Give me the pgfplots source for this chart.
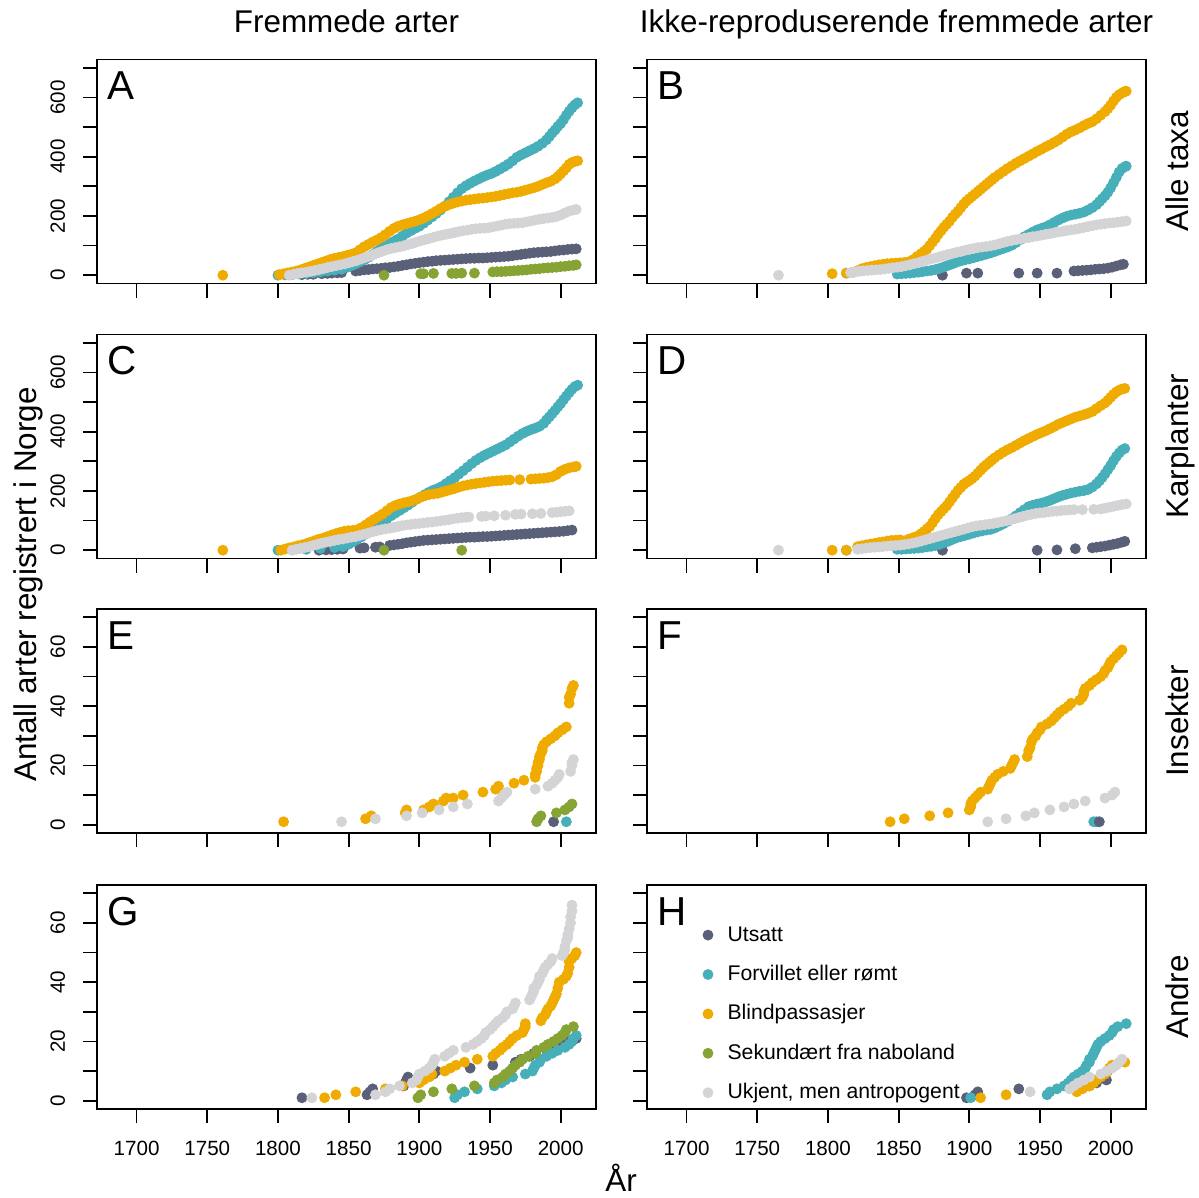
\documentclass[border=0pt]{standalone}
\usepackage{fontspec}
\setmainfont{Liberation Sans}
\usepackage{pgfplots}
\pgfplotsset{compat=1.18}

\definecolor{cU}{HTML}{596077}
\definecolor{cF}{HTML}{47AFB9}
\definecolor{cB}{HTML}{F0AB00}
\definecolor{cS}{HTML}{86A333}
\definecolor{cK}{HTML}{D4D4D6}

\newcommand{\tickfont}{\fontsize{10.3}{12}\selectfont}
\newcommand{\bigfont}{\fontsize{15.7}{18}\selectfont}
\newcommand{\letfont}{\fontsize{20.2}{24}\selectfont}
\newcommand{\legfont}{\fontsize{10.6}{12}\selectfont}

\pgfplotsset{
  panel/.style={scale only axis, width=249.5pt, height=112pt,
    xmin=1672, xmax=2025,
    axis line style={line width=0.9pt},
    tick style={line width=0.9pt, black},
    tick align=outside, major tick length=7pt,
    xtick={1700,1750,...,2000}, xtick pos=left, ytick pos=left,
    xticklabels={,,,,,,}, yticklabels={,,,,,,,},
    tick label style={font=\tickfont, inner sep=0pt},
    /pgf/number format/assume math mode=true},
  big/.style={ymin=-28, ymax=728, ytick={0,100,...,700}},
  small/.style={ymin=-2.8, ymax=72.8, ytick={0,10,...,70}},
  ylabbig/.style={yticklabels={0,,200,,400,,600,},
    yticklabel style={rotate=90, anchor=south}, yticklabel shift=8.8pt},
  ylabsmall/.style={yticklabels={0,,20,,40,,60,},
    yticklabel style={rotate=90, anchor=south}, yticklabel shift=8.8pt},
  xlab/.style={xticklabels={1700,1750,1800,1850,1900,1950,2000}, xticklabel shift=9pt},
  pU/.style={only marks, mark=*, mark size=2.5pt, color=cU},
  pF/.style={only marks, mark=*, mark size=2.5pt, color=cF},
  pB/.style={only marks, mark=*, mark size=2.5pt, color=cB},
  pS/.style={only marks, mark=*, mark size=2.5pt, color=cS},
  pK/.style={only marks, mark=*, mark size=2.5pt, color=cK},
}
\newcommand{\panelletter}[1]{\node[anchor=base west, inner sep=0pt, font=\letfont] at (rel axis cs:0.02,0.821) {#1};}

\begin{document}
\begin{tikzpicture}
\begin{scope}[x=0.5pt, y=-0.5pt]
\path[use as bounding box] (0,0) rectangle (1199,1198);
\node[font=\bigfont, anchor=base] at (346.5,33) {Fremmede arter};
\node[font=\bigfont, anchor=base] at (896.5,33) {Ikke-reproduserende fremmede arter};
\node[font=\bigfont, anchor=base, rotate=90] at (1188,171.5) {Alle taxa};
\node[font=\bigfont, anchor=base, rotate=90] at (1188,446) {Karplanter};
\node[font=\bigfont, anchor=base, rotate=90] at (1188,721) {Insekter};
\node[font=\bigfont, anchor=base, rotate=90] at (1188,997) {Andre};
\node[font=\bigfont, anchor=base, rotate=90] at (36,584.5) {Antall arter registrert i Norge};
\node[font=\bigfont, anchor=base] at (621,1191) {År};
\end{scope}

% ---------- A ----------
\begin{axis}[panel, big, ylabbig, at={(48.5pt,-141.75pt)}, anchor=south west]
\addplot[pU] coordinates {(1817,2)(1821,3)(1825,3)(1831,5)(1835,6)(1838,7)(1842,8)(1845,9)(1855,14)(1858,16)(1861,18)(1864,19)(1867,21)(1870,22)(1873,23)(1876,25)(1879,26)(1882,28)(1885,30)(1888,33)(1891,35)(1894,38)(1897,40)(1900,42)(1903,44)(1906,46)(1909,47)(1912,49)(1915,50)(1918,51)(1921,52)(1924,53)(1927,54)(1930,55)(1933,56)(1936,57)(1939,57)(1942,58)(1945,58)(1948,59)(1951,60)(1954,61)(1957,62)(1960,63)(1963,64)(1966,66)(1969,68)(1972,70)(1975,72)(1978,74)(1981,76)(1984,77)(1987,78)(1990,79)(1993,80)(1996,82)(1999,84)(2002,85)(2005,87)(2008,88)(2011,89)};
\addplot[pF] coordinates {(1800,0)(1805,1)(1810,2)(1815,4)(1820,6)(1825,8)(1830,11)(1835,14)(1840,17)(1845,20)(1849,27)(1852,32)(1855,38)(1858,45)(1861,52)(1864,60)(1867,70)(1870,80)(1873,90)(1876,98)(1879,106)(1882,114)(1885,122)(1888,132)(1891,142)(1894,150)(1897,158)(1900,165)(1903,175)(1906,186)(1909,197)(1912,208)(1915,220)(1918,233)(1921,248)(1924,263)(1927,278)(1930,292)(1933,302)(1936,310)(1939,318)(1942,325)(1945,332)(1948,338)(1951,343)(1954,350)(1957,358)(1960,366)(1963,375)(1966,386)(1969,398)(1972,406)(1975,413)(1978,420)(1981,427)(1984,435)(1987,445)(1990,457)(1992,468)(1994,480)(1996,490)(1998,502)(2000,512)(2002,525)(2004,540)(2006,553)(2008,565)(2010,575)(2012,582)};
\addplot[pB] coordinates {(1761,0)(1801,2)(1804,5)(1807,8)(1810,11)(1813,14)(1816,18)(1819,23)(1822,28)(1825,33)(1828,38)(1831,43)(1834,48)(1837,53)(1840,57)(1843,60)(1846,63)(1849,67)(1852,71)(1855,76)(1858,86)(1861,96)(1864,104)(1867,112)(1870,119)(1873,127)(1876,137)(1879,148)(1882,158)(1885,165)(1888,170)(1891,174)(1894,178)(1897,182)(1900,187)(1903,193)(1906,200)(1909,208)(1912,216)(1915,225)(1918,232)(1921,238)(1924,243)(1927,247)(1930,250)(1933,253)(1936,255)(1939,257)(1942,259)(1945,260)(1948,262)(1951,264)(1954,266)(1957,269)(1960,272)(1963,275)(1966,278)(1969,280)(1972,283)(1975,287)(1978,291)(1981,295)(1984,300)(1987,306)(1990,312)(1993,317)(1996,325)(1998,333)(2000,342)(2002,352)(2004,362)(2006,374)(2008,380)(2010,384)(2012,386)};
\addplot[pS] coordinates {(1875,0)(1901,5)(1903,5)(1910,6)(1923,6)(1926,6)(1930,7)(1939,7)(1952,11)(1955,12)(1958,12)(1961,13)(1964,14)(1967,15)(1970,16)(1973,17)(1976,18)(1979,20)(1982,21)(1985,22)(1988,24)(1991,25)(1994,26)(1997,27)(2000,29)(2003,30)(2006,32)(2009,33)(2011,35)};
\addplot[pK] coordinates {(1808,0)(1811,3)(1814,6)(1817,8)(1820,10)(1823,13)(1826,16)(1829,19)(1832,22)(1835,26)(1838,29)(1841,32)(1844,35)(1847,38)(1850,42)(1853,46)(1856,50)(1859,55)(1862,60)(1865,65)(1868,70)(1871,76)(1874,81)(1877,86)(1880,90)(1883,93)(1886,96)(1889,99)(1892,103)(1895,107)(1898,112)(1901,116)(1904,120)(1907,124)(1910,128)(1913,132)(1916,135)(1919,138)(1922,141)(1925,144)(1928,147)(1931,150)(1934,152)(1937,155)(1940,157)(1943,158)(1946,159)(1949,160)(1952,163)(1955,166)(1958,169)(1961,172)(1964,174)(1967,175)(1970,176)(1973,177)(1976,180)(1979,183)(1982,186)(1985,189)(1988,191)(1991,193)(1994,195)(1997,198)(2000,203)(2003,210)(2006,216)(2009,220)(2011,222)};
\panelletter{A}
\end{axis}

% ---------- B ----------
\begin{axis}[panel, big, at={(323.5pt,-141.75pt)}, anchor=south west]
\addplot[pU] coordinates {(1881,0)(1898,7)(1906,7)(1935,7)(1948,7)(1962,7)(1974,14)(1977,15)(1980,16)(1983,17)(1986,18)(1989,20)(1992,21)(1995,22)(1998,24)(2001,27)(2004,31)(2007,35)(2009,37)};
\addplot[pF] coordinates {(1813,7)(1849,4)(1852,5)(1855,6)(1858,7)(1861,9)(1864,10)(1867,12)(1870,14)(1873,16)(1876,19)(1879,23)(1882,28)(1885,33)(1888,38)(1891,44)(1894,48)(1897,52)(1900,55)(1903,59)(1906,63)(1909,67)(1912,71)(1915,75)(1918,80)(1921,85)(1924,90)(1927,95)(1930,101)(1933,110)(1936,120)(1939,130)(1942,138)(1945,146)(1948,153)(1951,158)(1954,163)(1957,170)(1960,178)(1963,186)(1966,193)(1969,199)(1972,203)(1975,206)(1978,209)(1981,213)(1984,220)(1987,228)(1990,238)(1992,248)(1994,258)(1996,268)(1998,280)(2000,295)(2002,312)(2004,330)(2006,348)(2008,360)(2010,366)(2011,368)};
\addplot[pB] coordinates {(1803,5)(1813,7)(1818,10)(1821,15)(1824,22)(1827,26)(1830,29)(1833,32)(1836,35)(1839,37)(1842,39)(1845,40)(1848,41)(1851,42)(1854,43)(1857,45)(1860,52)(1863,63)(1866,73)(1868,80)(1870,88)(1872,100)(1874,112)(1876,124)(1878,138)(1880,150)(1882,162)(1884,172)(1886,182)(1888,195)(1890,206)(1892,216)(1894,228)(1896,240)(1898,250)(1900,258)(1902,266)(1904,274)(1906,282)(1908,290)(1910,298)(1912,306)(1914,314)(1916,322)(1918,330)(1921,340)(1924,350)(1927,360)(1930,369)(1933,378)(1936,386)(1939,394)(1942,402)(1945,410)(1948,418)(1951,425)(1954,433)(1957,440)(1960,448)(1963,456)(1966,466)(1969,476)(1972,484)(1975,490)(1978,497)(1981,505)(1984,512)(1987,518)(1990,528)(1993,540)(1996,552)(1998,562)(2000,574)(2002,588)(2004,600)(2006,609)(2008,615)(2010,620)(2011,621)};
\addplot[pK] coordinates {(1765,0)(1816,9)(1819,11)(1822,13)(1825,15)(1828,16)(1831,17)(1834,18)(1837,19)(1840,21)(1843,23)(1846,25)(1849,27)(1852,29)(1855,32)(1858,35)(1861,39)(1864,42)(1867,47)(1870,51)(1873,55)(1876,58)(1879,62)(1882,66)(1885,70)(1888,73)(1891,77)(1894,80)(1897,84)(1900,87)(1903,90)(1906,93)(1909,95)(1912,97)(1915,99)(1918,102)(1921,106)(1924,110)(1927,114)(1930,117)(1933,120)(1936,122)(1939,125)(1942,127)(1945,130)(1948,132)(1951,135)(1954,138)(1957,140)(1960,143)(1963,146)(1966,148)(1969,151)(1972,153)(1975,155)(1978,158)(1981,161)(1984,164)(1987,167)(1990,170)(1993,172)(1996,174)(1999,176)(2002,177)(2005,179)(2008,181)(2011,183)};
\panelletter{B}
\end{axis}

% ---------- C ----------
\begin{axis}[panel, big, ylabbig, at={(48.5pt,-279.25pt)}, anchor=south west]
\addplot[pU] coordinates {(1829,0)(1834,1)(1838,2)(1842,3)(1846,4)(1858,7)(1861,8)(1869,10)(1872,11)(1879,16)(1882,18)(1885,20)(1888,22)(1891,25)(1894,27)(1897,29)(1900,31)(1903,33)(1906,34)(1909,35)(1912,36)(1915,37)(1918,38)(1921,39)(1924,40)(1927,41)(1930,42)(1933,43)(1936,44)(1939,44)(1942,45)(1945,46)(1948,46)(1951,47)(1954,48)(1957,49)(1960,50)(1963,51)(1966,52)(1969,53)(1972,54)(1975,55)(1978,56)(1981,57)(1984,58)(1987,59)(1990,60)(1993,61)(1996,62)(1999,63)(2002,64)(2005,66)(2008,68)};
\addplot[pF] coordinates {(1800,0)(1810,1)(1820,3)(1830,6)(1840,9)(1846,12)(1850,20)(1853,28)(1856,36)(1859,45)(1862,55)(1865,65)(1868,75)(1871,85)(1874,95)(1877,105)(1880,116)(1883,125)(1886,134)(1889,143)(1892,152)(1895,162)(1898,172)(1901,180)(1904,188)(1907,196)(1910,203)(1913,208)(1916,215)(1919,225)(1922,235)(1925,245)(1928,257)(1931,268)(1934,280)(1937,292)(1940,303)(1943,312)(1946,320)(1949,327)(1952,334)(1955,341)(1958,348)(1961,355)(1964,365)(1967,375)(1970,385)(1973,394)(1976,401)(1979,407)(1982,412)(1985,418)(1988,428)(1990,440)(1992,450)(1994,461)(1996,472)(1998,484)(2000,495)(2002,508)(2004,520)(2006,532)(2008,543)(2010,552)(2012,557)};
\addplot[pB] coordinates {(1761,0)(1802,0)(1805,4)(1808,8)(1811,11)(1814,15)(1817,18)(1820,22)(1823,27)(1826,32)(1829,37)(1832,41)(1835,46)(1838,51)(1841,56)(1844,60)(1847,64)(1850,66)(1853,67)(1856,69)(1859,76)(1862,85)(1865,95)(1868,104)(1871,113)(1874,122)(1877,133)(1880,144)(1883,151)(1886,156)(1889,160)(1892,163)(1895,167)(1898,172)(1901,179)(1904,184)(1907,188)(1910,190)(1913,192)(1916,196)(1919,200)(1922,204)(1925,208)(1928,213)(1931,217)(1934,220)(1937,223)(1940,225)(1943,227)(1946,229)(1949,231)(1952,233)(1955,234)(1958,235)(1961,236)(1964,237)(1971,238)(1979,240)(1982,241)(1985,242)(1988,243)(1991,245)(1994,248)(1997,255)(2000,266)(2003,273)(2006,278)(2009,281)(2011,283)};
\addplot[pS] coordinates {(1875,0)(1930,0)};
\addplot[pK] coordinates {(1810,0)(1813,3)(1816,6)(1819,9)(1822,12)(1825,16)(1828,20)(1831,24)(1834,27)(1837,30)(1840,33)(1843,36)(1846,38)(1849,41)(1852,44)(1855,46)(1858,50)(1861,54)(1864,58)(1867,62)(1870,66)(1873,69)(1876,72)(1879,74)(1882,77)(1885,80)(1888,83)(1891,85)(1894,87)(1897,89)(1900,90)(1903,92)(1906,94)(1909,95)(1912,97)(1915,99)(1918,101)(1921,103)(1924,106)(1927,108)(1930,110)(1933,111)(1935,112)(1944,114)(1947,115)(1953,116)(1961,118)(1968,121)(1972,122)(1980,123)(1986,124)(1994,127)(1997,128)(2000,130)(2003,131)(2006,133)};
\panelletter{C}
\end{axis}

% ---------- D ----------
\begin{axis}[panel, big, at={(323.5pt,-279.25pt)}, anchor=south west]
\addplot[pU] coordinates {(1881,0)(1948,0)(1962,1)(1975,5)(1987,8)(1990,10)(1993,12)(1996,14)(1999,17)(2002,20)(2005,23)(2008,27)(2010,30)};
\addplot[pF] coordinates {(1813,0)(1849,3)(1852,3)(1855,4)(1858,5)(1861,6)(1864,7)(1867,9)(1870,11)(1873,13)(1876,16)(1879,20)(1882,25)(1885,30)(1888,36)(1891,42)(1894,46)(1897,50)(1900,54)(1903,58)(1906,62)(1909,65)(1912,68)(1915,70)(1918,75)(1921,82)(1924,89)(1927,97)(1930,106)(1933,116)(1936,127)(1939,137)(1942,147)(1945,152)(1948,156)(1951,159)(1954,163)(1957,168)(1960,174)(1963,180)(1966,185)(1969,189)(1972,193)(1975,196)(1978,199)(1981,201)(1984,205)(1987,213)(1990,224)(1992,234)(1994,245)(1996,258)(1998,272)(2000,286)(2002,302)(2004,316)(2006,328)(2008,338)(2010,343)};
\addplot[pB] coordinates {(1803,0)(1813,0)(1821,12)(1824,15)(1827,18)(1830,21)(1833,23)(1836,26)(1839,28)(1842,31)(1845,33)(1848,34)(1851,35)(1857,37)(1860,42)(1863,47)(1866,56)(1868,63)(1870,72)(1872,80)(1874,93)(1876,107)(1878,120)(1880,130)(1882,140)(1884,150)(1886,163)(1888,176)(1890,189)(1892,202)(1894,212)(1896,222)(1898,229)(1900,235)(1902,242)(1904,250)(1906,260)(1908,270)(1910,280)(1912,288)(1914,296)(1916,304)(1918,312)(1921,322)(1924,331)(1927,339)(1930,346)(1933,354)(1936,362)(1939,370)(1942,377)(1945,384)(1948,391)(1951,397)(1954,403)(1957,410)(1960,417)(1963,425)(1966,431)(1969,437)(1972,443)(1975,449)(1978,453)(1981,457)(1984,462)(1987,468)(1990,478)(1993,488)(1996,497)(1998,506)(2000,516)(2002,526)(2004,534)(2006,540)(2008,544)(2010,546)};
\addplot[pK] coordinates {(1765,0)(1821,3)(1824,5)(1827,7)(1830,9)(1833,10)(1836,11)(1839,12)(1842,14)(1845,15)(1848,16)(1851,17)(1854,19)(1857,21)(1860,24)(1863,27)(1866,31)(1869,35)(1872,39)(1875,43)(1878,47)(1881,51)(1884,55)(1887,59)(1890,63)(1893,67)(1896,71)(1899,75)(1902,79)(1905,82)(1908,84)(1911,86)(1914,88)(1917,90)(1920,93)(1923,96)(1926,99)(1929,102)(1932,106)(1935,110)(1938,114)(1941,118)(1944,121)(1947,124)(1950,126)(1953,127)(1956,129)(1959,131)(1962,132)(1965,134)(1968,135)(1971,136)(1974,137)(1980,137)(1988,138)(1993,139)(1996,142)(1999,145)(2002,148)(2005,151)(2008,154)(2011,156)};
\panelletter{D}
\end{axis}

% ---------- E ----------
\begin{axis}[panel, small, ylabsmall, at={(48.5pt,-416.5pt)}, anchor=south west]
\addplot[pU] coordinates {(1995,1)};
\addplot[pF] coordinates {(2004,1)};
\addplot[pB] coordinates {(1804,1)(1862,2)(1866,3)(1890,4)(1891,5)(1903,5)(1907,6)(1910,7)(1917,8)(1919,9)(1924,9)(1931,10)(1945,11)(1954,12)(1956,13)(1967,14)(1974,15)(1982,16)(1982,17)(1983,18)(1983,19)(1984,20)(1984,21)(1985,22)(1985,23)(1986,24)(1987,25)(1987,26)(1988,27)(1990,28)(1993,29)(1996,30)(1998,31)(2001,32)(2004,33)(2006,41)(2006,43)(2007,44)(2008,46)(2009,47)};
\addplot[pS] coordinates {(1983,1)(1984,2)(1986,3)(1997,4)(2003,5)(2006,6)(2008,7)};
\addplot[pK] coordinates {(1845,1)(1869,2)(1891,3)(1902,4)(1914,5)(1924,6)(1934,7)(1956,8)(1958,9)(1960,10)(1962,11)(1982,12)(1991,13)(1994,14)(1996,15)(1998,16)(1999,17)(2007,18)(2008,20)(2008,21)(2009,22)};
\panelletter{E}
\end{axis}

% ---------- F ----------
\begin{axis}[panel, small, at={(323.5pt,-416.5pt)}, anchor=south west]
\addplot[pF] coordinates {(1988,1)(1990,1)};
\addplot[pU] coordinates {(1992,1)};
\addplot[pB] coordinates {(1844,1)(1854,2)(1872,3)(1885,4)(1900,5)(1901,6)(1901,7)(1902,8)(1904,9)(1906,10)(1908,11)(1913,12)(1914,13)(1915,14)(1916,15)(1918,16)(1920,17)(1924,18)(1929,19)(1930,20)(1931,21)(1932,22)(1941,23)(1942,25)(1943,26)(1944,28)(1945,29)(1947,30)(1948,31)(1950,32)(1951,33)(1955,34)(1958,35)(1960,36)(1962,37)(1964,38)(1967,39)(1970,40)(1972,41)(1978,42)(1980,43)(1981,44)(1981,45)(1982,46)(1985,47)(1987,48)(1990,49)(1993,50)(1995,51)(1996,52)(1998,53)(1999,54)(2000,55)(2002,56)(2004,57)(2006,58)(2008,59)};
\addplot[pK] coordinates {(1913,1)(1926,2)(1940,3)(1946,4)(1957,5)(1967,6)(1974,7)(1982,8)(1996,9)(2001,10)(2003,11)};
\panelletter{F}
\end{axis}

% ---------- G ----------
\begin{axis}[panel, small, ylabsmall, xlab, at={(48.5pt,-554.5pt)}, anchor=south west]
\addplot[pU] coordinates {(1817,1)(1863,2)(1865,3)(1867,4)(1889,5)(1890,6)(1891,7)(1892,8)(1910,9)(1912,10)(1936,11)(1952,12)(1968,13)(1972,14)(1978,15)(1981,16)(1990,17)(1996,18)(2001,19)(2006,20)(2011,21)};
\addplot[pF] coordinates {(1925,1)(1927,2)(1932,3)(1941,4)(1953,5)(1958,6)(1961,7)(1966,8)(1975,9)(1980,10)(1981,11)(1982,12)(1985,13)(1986,14)(1990,15)(1994,16)(1998,17)(2003,18)(2006,19)(2008,20)(2009,21)(2011,22)};
\addplot[pB] coordinates {(1833,1)(1841,2)(1855,3)(1876,4)(1888,5)(1900,6)(1903,7)(1907,8)(1909,9)(1918,10)(1922,11)(1926,12)(1932,13)(1941,14)(1952,15)(1954,16)(1957,17)(1959,18)(1962,19)(1964,20)(1966,21)(1969,22)(1973,23)(1974,24)(1975,25)(1975,26)(1986,27)(1987,28)(1989,29)(1990,30)(1991,31)(1993,32)(1994,33)(1995,34)(1996,35)(1997,36)(1998,38)(1999,40)(2002,41)(2004,42)(2005,43)(2006,45)(2006,47)(2008,48)(2010,49)(2011,50)};
\addplot[pS] coordinates {(1899,1)(1901,2)(1910,3)(1923,4)(1939,5)(1953,6)(1955,7)(1959,8)(1961,9)(1964,10)(1966,11)(1968,12)(1971,13)(1973,14)(1977,15)(1982,16)(1983,17)(1988,18)(1991,19)(1995,20)(1998,21)(2001,22)(2003,23)(2004,24)(2009,25)};
\addplot[pK] coordinates {(1824,1)(1869,2)(1876,3)(1879,4)(1886,5)(1895,6)(1898,7)(1899,8)(1900,9)(1904,10)(1907,11)(1909,12)(1910,13)(1911,14)(1918,15)(1921,16)(1924,17)(1933,18)(1938,19)(1941,20)(1944,21)(1946,22)(1947,23)(1950,24)(1952,25)(1954,26)(1956,27)(1959,28)(1961,29)(1962,30)(1966,31)(1967,32)(1968,33)(1978,34)(1979,35)(1980,36)(1981,37)(1981,38)(1983,39)(1984,40)(1985,41)(1985,42)(1987,43)(1988,44)(1989,45)(1991,46)(1993,47)(1994,48)(2001,49)(2002,50)(2003,51)(2003,52)(2004,54)(2005,55)(2005,56)(2006,58)(2007,60)(2007,62)(2008,64)(2008,66)};
\panelletter{G}
\end{axis}

% ---------- H ----------
\begin{axis}[panel, small, xlab, at={(323.5pt,-554.5pt)}, anchor=south west,
  legend image code/.code={\path (0pt,-2pt) (0pt,7pt);\draw[#1] plot coordinates {(0pt,0.5pt)};},
  legend cell align=left,
  legend style={draw=none, fill=none, at={(0.1114,0.838)}, anchor=north west,
    inner sep=0pt, font=\legfont, row sep=8pt,
    nodes={inner sep=0pt, text height=7pt, text depth=2pt},
    /tikz/every odd column/.append style={column sep=7.3pt}}]
\addlegendimage{pU}\addlegendentry{Utsatt}
\addlegendimage{pF}\addlegendentry{Forvillet eller rømt}
\addlegendimage{pB}\addlegendentry{Blindpassasjer}
\addlegendimage{pS}\addlegendentry{Sekundært fra naboland}
\addlegendimage{pK}\addlegendentry{Ukjent, men antropogent}
\addplot[pU, forget plot] coordinates {(1898,1)(1904,2)(1906,3)(1935,4)(1985,5)(1990,6)(1997,7)};
\addplot[pF, forget plot] coordinates {(1901,1)(1955,2)(1957,3)(1962,4)(1967,5)(1970,6)(1972,7)(1974,8)(1977,9)(1980,10)(1982,11)(1983,12)(1985,13)(1985,14)(1987,15)(1988,16)(1989,17)(1990,18)(1991,19)(1993,20)(1996,21)(1999,22)(2001,23)(2002,24)(2005,25)(2011,26)};
\addplot[pB, forget plot] coordinates {(1908,1)(1926,2)(1976,3)(1980,4)(1985,5)(1988,6)(1990,7)(1993,8)(1996,9)(1998,10)(1999,11)(2001,12)(2010,13)};
\addplot[pK, forget plot] coordinates {(1943,3)(1971,4)(1974,5)(1977,6)(1981,7)(1985,8)(1993,9)(1997,10)(2001,11)(2004,12)(2006,13)(2008,14)};
\panelletter{H}
\end{axis}
\end{tikzpicture}
\end{document}
